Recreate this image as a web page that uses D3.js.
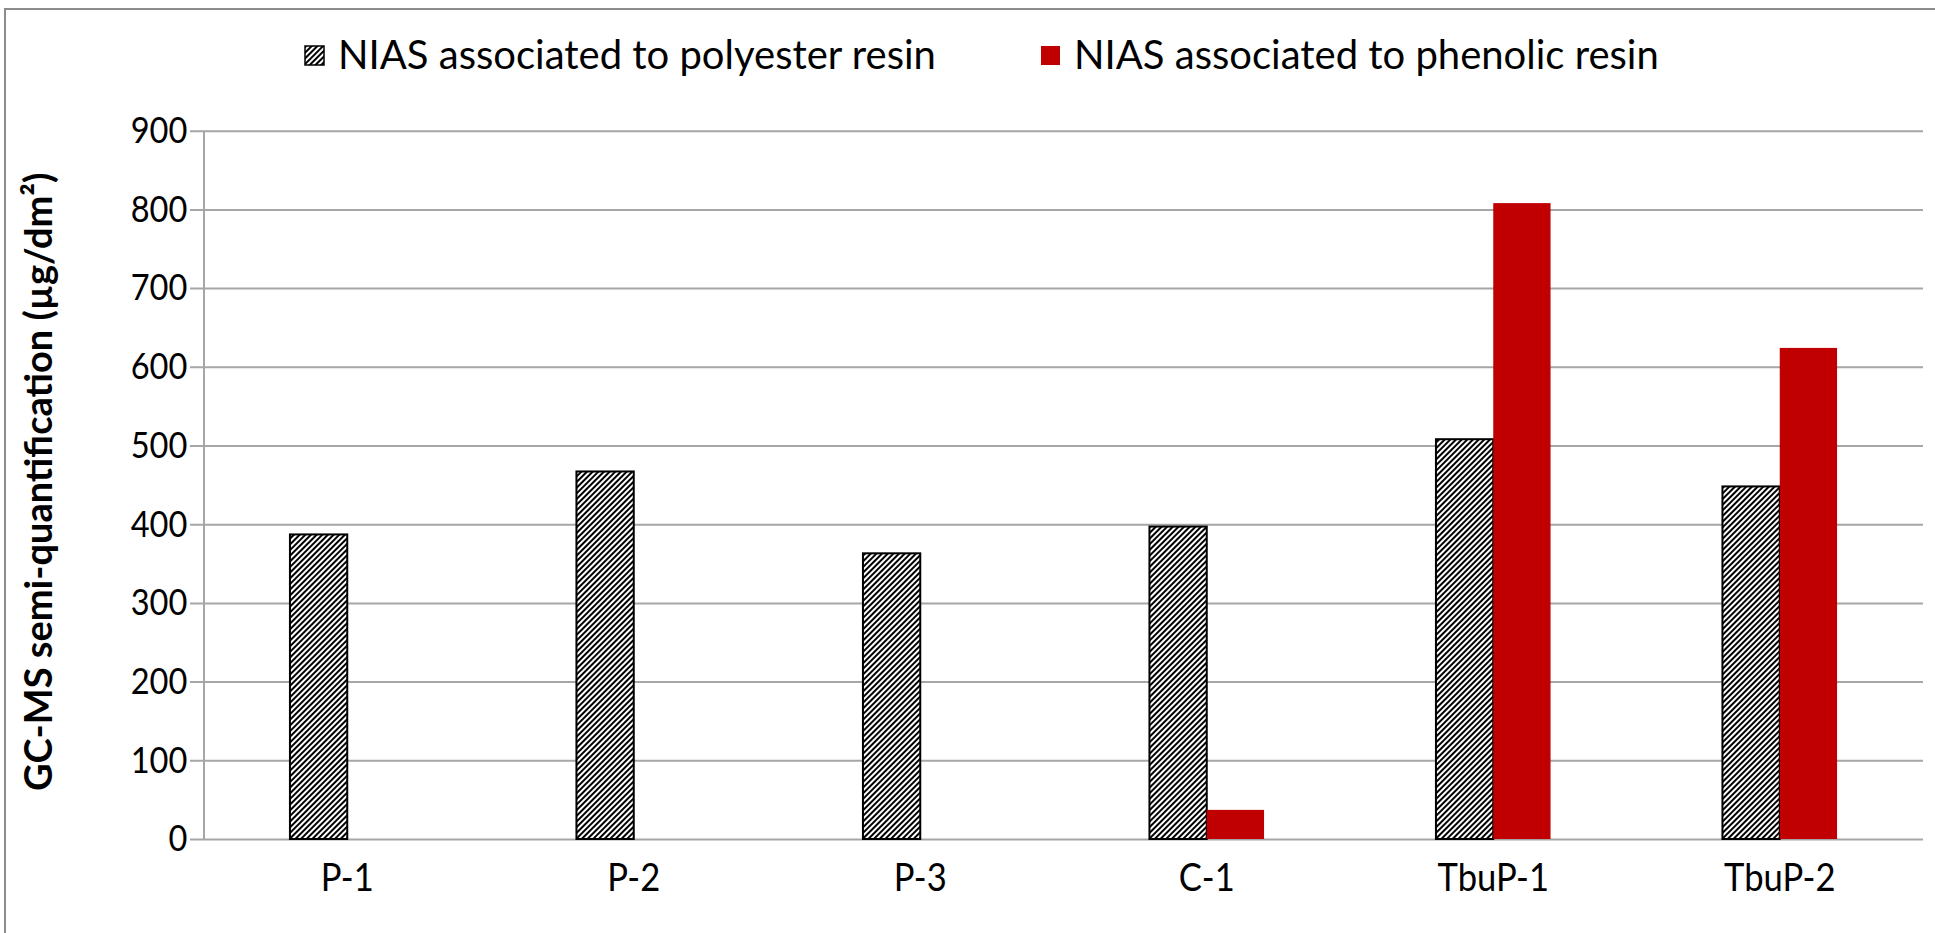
<!DOCTYPE html>
<html><head><meta charset="utf-8">
<script src="https://cdn.jsdelivr.net/npm/d3@7"></script>
<style>body{margin:0;background:#fff}svg{display:block}text{font-family:Lato,"Open Sans",sans-serif}</style>
</head><body>
<svg id="c" width="1935" height="933"></svg>
<script>
const categories = ["P-1","P-2","P-3","C-1","TbuP-1","TbuP-2"];
const seriesNames = ["NIAS associated to polyester resin","NIAS associated to phenolic resin"];
const polyester = [387, 467, 363, 397, 508, 448];
const phenolic = [0, 0, 0, 37, 808, 624];
const yTicks = [0,100,200,300,400,500,600,700,800,900];
const yTitle = "GC-MS semi-quantification (µg/dm²)";

(function(){
const svg = d3.select("#c");
const W = 1935, H = 933;
const pL = 204, pR = 1923, pT = 130.7, pB = 839;

const defs = svg.append("defs");
const pat = defs.append("pattern").attr("id","hatch").attr("patternUnits","userSpaceOnUse")
  .attr("width",4).attr("height",4).attr("patternTransform","rotate(45)");
pat.append("rect").attr("width",4).attr("height",4).attr("fill","#fff");
pat.append("line").attr("x1",1).attr("y1",0).attr("x2",1).attr("y2",4).attr("stroke","#000").attr("stroke-width",2);

svg.append("rect").attr("x",5).attr("y",9).attr("width",W+10).attr("height",H+10)
  .attr("fill","none").attr("stroke","#8c8c8c").attr("stroke-width",2);

const x0 = d3.scaleBand().domain(categories).range([pL,pR]).paddingInner(0.6).paddingOuter(0.3);
const x1 = d3.scaleBand().domain([0,1]).range([0,x0.bandwidth()]);
const y = d3.scaleLinear().domain([0,900]).range([pB,pT]);

const g = svg.append("g").attr("transform",`translate(190,0)`)
  .call(d3.axisLeft(y).tickValues(yTicks).tickSize(-(pR-190)).tickPadding(3).tickFormat(d3.format("d")));
g.select(".domain").remove();
g.selectAll(".tick line").attr("stroke","#a6a6a6").attr("stroke-width",2);
g.selectAll(".tick text").attr("font-size",37).attr("fill","#000").attr("font-family","Lato, sans-serif")
  .attr("transform","scale(0.88,1)");
svg.append("line").attr("x1",pL).attr("x2",pL).attr("y1",y(900)).attr("y2",y(0))
  .attr("stroke","#a6a6a6").attr("stroke-width",2);

const data = categories.map((c,i)=>({c, vals:[polyester[i], phenolic[i]]}));
const groups = svg.append("g").selectAll("g").data(data).join("g")
  .attr("transform",d=>`translate(${x0(d.c)},0)`);
groups.selectAll("rect").data(d=>d.vals.map((v,k)=>({k,v})).filter(e=>e.v>0)).join("rect")
  .attr("x",e=>x1(e.k)).attr("width",x1.bandwidth())
  .attr("y",e=>y(e.v)).attr("height",e=>y(0)-y(e.v))
  .attr("fill",e=>e.k===0?"url(#hatch)":"#c00000")
  .attr("stroke",e=>e.k===0?"#000":"none").attr("stroke-width",2);

const xa = svg.append("g").attr("transform",`translate(0,${pB})`)
  .call(d3.axisBottom(x0).tickSize(0).tickPadding(20));
xa.select(".domain").remove();
xa.selectAll(".tick text").attr("font-size",38).attr("fill","#000").attr("font-family","Lato, sans-serif").attr("dy","0.85em")
  .attr("transform","scale(0.91,1)");

svg.append("text").attr("transform",`translate(52,${(pT+pB)/2 - 3}) rotate(-90)`)
  .attr("text-anchor","middle").attr("font-size",38).attr("font-weight","bold").text(yTitle);

const leg = [{x:305, fill:"url(#hatch)", stroke:"#000"},{x:1041, fill:"#c00000", stroke:"none"}];
leg.forEach((l,i)=>{
  svg.append("rect").attr("x",l.x).attr("y",46).attr("width",19).attr("height",19)
    .attr("fill",l.fill).attr("stroke",l.stroke).attr("stroke-width",1.5);
  svg.append("text").attr("x",l.x+33).attr("y",69).attr("font-size",40).text(seriesNames[i]);
});
})();
</script>
</body></html>
